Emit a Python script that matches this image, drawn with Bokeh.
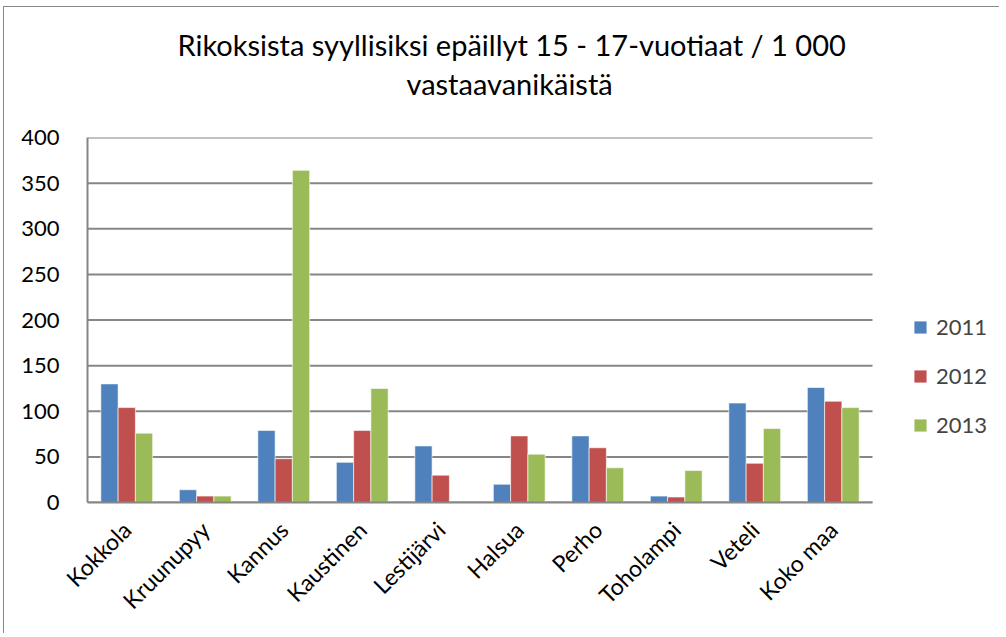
from bokeh.plotting import figure
from bokeh.models import (ColumnDataSource, Legend, LegendItem, Title, FixedTicker, Range1d)
from bokeh.transform import dodge
from bokeh.embed import file_html
from bokeh.resources import INLINE
import math

categories = ["Kokkola", "Kruunupyy", "Kannus", "Kaustinen", "Lestijärvi",
              "Halsua", "Perho", "Toholampi", "Veteli", "Koko maa"]
y2011 = [130, 14, 79, 44, 62, 20, 73, 7, 109, 126]
y2012 = [104, 7, 48, 79, 30, 73, 60, 6, 43, 111]
y2013 = [76, 7, 364, 125, 0, 53, 38, 35, 81, 104]
series_names = ["2011", "2012", "2013"]
colors = ["#4F81BD", "#C0504D", "#9BBB59"]
y_ticks = [0, 50, 100, 150, 200, 250, 300, 350, 400]

FONT = "Lato"

# layout (pixels)
W, H = 996, 627
BL, BR, BT, BB = 83, 1, 130, 132
CAT_PX = 785.0          # pixel width occupied by the 10 categories
frame_w = W - BL - BR
n = len(categories)
x_start = -0.5
x_end = x_start + n * frame_w / CAT_PX

idx = list(range(n))
src = ColumnDataSource(dict(x=idx, y2011=y2011, y2012=y2012, y2013=y2013))

p = figure(x_range=Range1d(x_start, x_end), y_range=Range1d(0, 400),
           width=W, height=H, output_backend="svg", toolbar_location=None,
           min_border_left=BL, min_border_right=BR, min_border_top=BT, min_border_bottom=BB)
p.styles = {"border-left": "1px solid #888888", "border-top": "1px solid #888888",
            "margin-left": "3px", "margin-top": "6px"}

t2 = Title(text="vastaavanikäistä", align="left", offset=319, text_font=FONT,
           text_font_size="29px", text_font_style="normal", text_color="#000000", standoff=73)
t1 = Title(text="Rikoksista syyllisiksi epäillyt 15 - 17-vuotiaat / 1 000", align="left", offset=90,
           text_font=FONT, text_font_size="29px", text_font_style="normal", text_color="#000000",
           standoff=-68)
p.add_layout(t2, "above")
p.add_layout(t1, "above")

# horizontal gridlines limited to the category area
p.segment(x0=[x_start] * len(y_ticks), x1=[x_start + n] * len(y_ticks), y0=y_ticks, y1=y_ticks,
          line_color="#868686", line_width=2)

width = 0.22
offsets = [-0.22, 0.0, 0.22]
renderers = []
for key, off, col in zip(["y2011", "y2012", "y2013"], offsets, colors):
    r = p.vbar(x=dodge("x", off), top=key, width=width, source=src,
               fill_color=col, line_color="#ffffff", line_alpha=0.6, line_width=1)
    renderers.append(r)

legend = Legend(items=[LegendItem(label=s, renderers=[r]) for s, r in zip(series_names, renderers)],
                location=(825, 64), label_text_font=FONT, label_text_font_size="22px",
                glyph_width=16, glyph_height=16, label_height=22, spacing=22,
                padding=0, margin=0, border_line_color=None, background_fill_alpha=0,
                label_standoff=8)
p.add_layout(legend, "center")

p.yaxis.ticker = FixedTicker(ticks=y_ticks)
p.yaxis.minor_tick_line_color = None
p.yaxis.major_label_text_font = FONT
p.yaxis.major_label_text_font_size = "22px"
p.yaxis.major_label_text_color = "#000000"
p.yaxis.axis_line_color = "#868686"
p.yaxis.axis_line_width = 2
p.yaxis.major_tick_line_color = None
p.yaxis.major_label_standoff = 22

p.xaxis.ticker = FixedTicker(ticks=idx)
p.xaxis.major_label_overrides = {i: c for i, c in zip(idx, categories)}
p.xaxis.bounds = (x_start, x_start + n)
p.xaxis.major_label_orientation = math.pi / 4
p.xaxis.major_label_text_font = FONT
p.xaxis.major_label_text_font_size = "23px"
p.xaxis.major_label_text_color = "#000000"
p.xaxis.axis_line_color = "#868686"
p.xaxis.axis_line_width = 2
p.xaxis.major_tick_line_color = None
p.xaxis.minor_tick_line_color = None
p.xaxis.major_label_standoff = 17

p.xgrid.grid_line_color = None
p.ygrid.grid_line_color = None
p.outline_line_color = None
p.background_fill_color = "#ffffff"
p.border_fill_color = "#ffffff"

open("out.html", "w").write(file_html(p, INLINE))
